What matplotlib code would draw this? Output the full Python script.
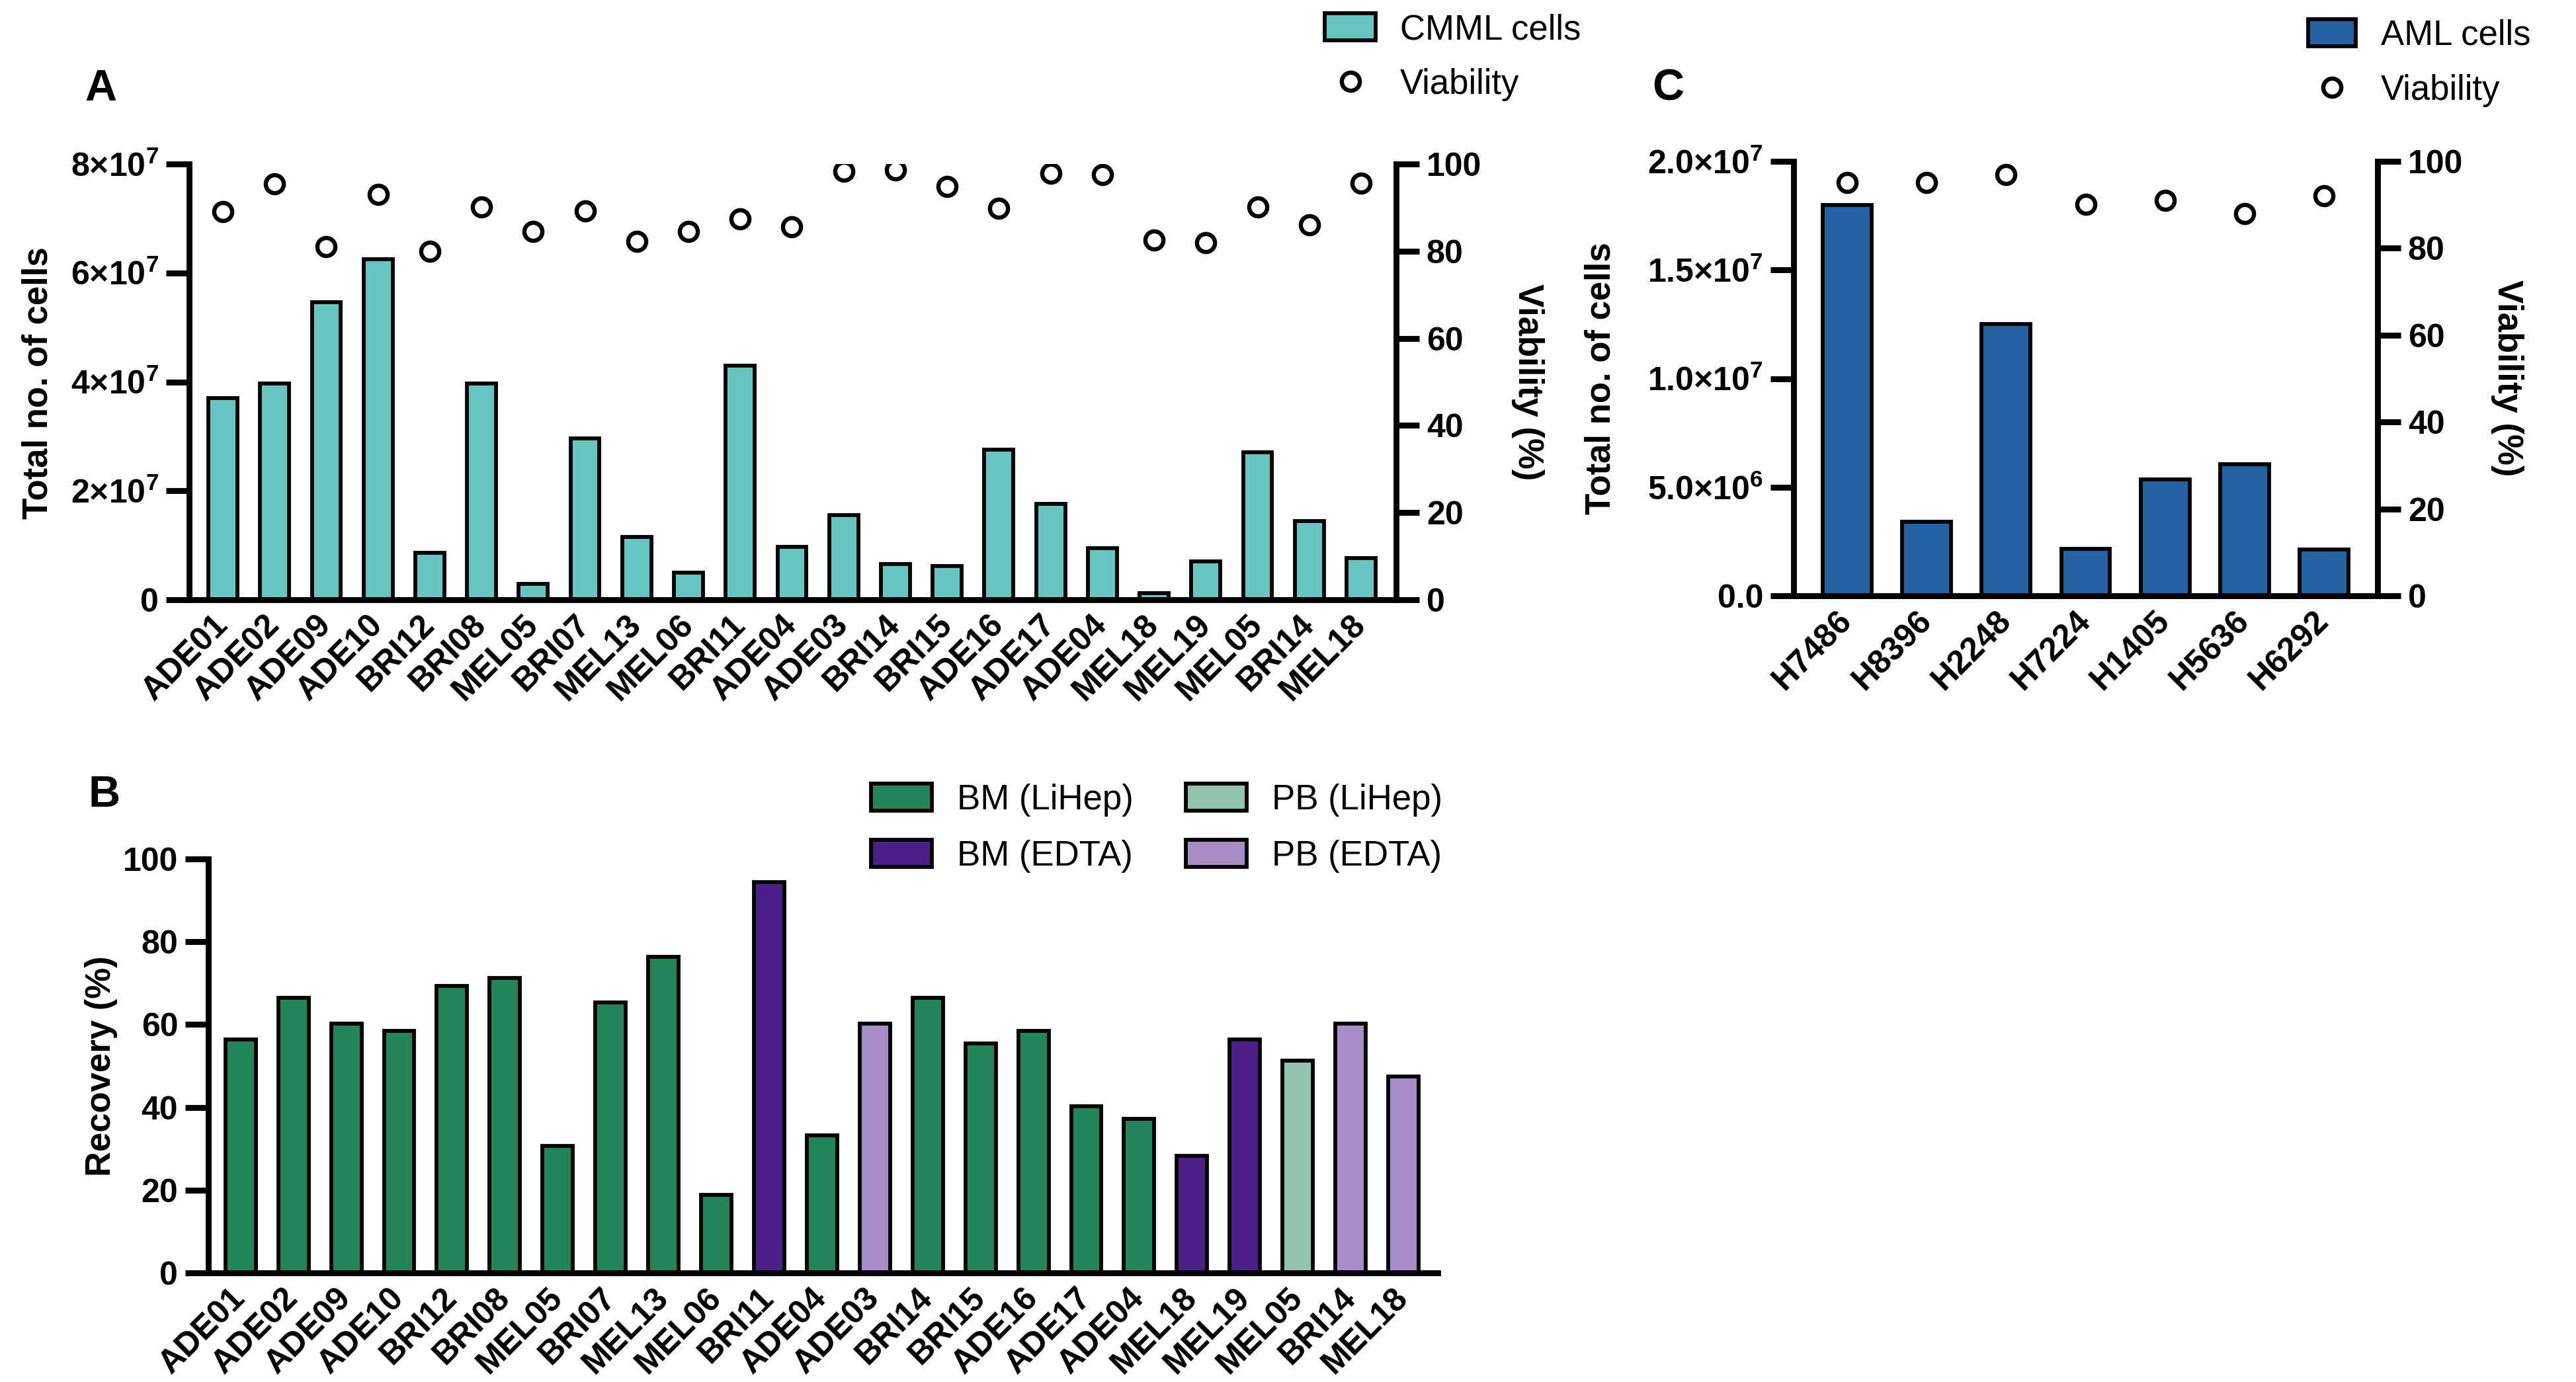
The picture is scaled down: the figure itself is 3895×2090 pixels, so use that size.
import numpy as np
import matplotlib
matplotlib.use("Agg")
import matplotlib.pyplot as plt
from matplotlib import font_manager
from matplotlib.patches import Patch
from matplotlib.lines import Line2D
from matplotlib.font_manager import FontProperties

# ---- data ----
cmml_samples = ["ADE01", "ADE02", "ADE09", "ADE10", "BRI12", "BRI08", "MEL05", "BRI07",
                "MEL13", "MEL06", "BRI11", "ADE04", "ADE03", "BRI14", "BRI15", "ADE16",
                "ADE17", "ADE04", "MEL18", "MEL19", "MEL05", "BRI14", "MEL18"]
cmml_cells = [3.70e7, 3.97e7, 5.46e7, 6.25e7, 0.86e7, 3.97e7, 0.29e7, 2.96e7,
              1.15e7, 0.50e7, 4.30e7, 0.97e7, 1.55e7, 0.65e7, 0.62e7, 2.76e7,
              1.76e7, 0.95e7, 0.12e7, 0.70e7, 2.71e7, 1.44e7, 0.76e7]
cmml_viability = [89.0, 95.4, 81.0, 93.0, 79.9, 90.1, 84.5, 89.3, 82.2, 84.5, 87.4, 85.6,
                  98.4, 98.6, 94.9, 89.9, 97.9, 97.5, 82.6, 81.9, 90.1, 86.0, 95.6]

aml_samples = ["H7486", "H8396", "H2248", "H7224", "H1405", "H5636", "H6292"]
aml_cells = [18.0e6, 3.4e6, 12.5e6, 2.15e6, 5.35e6, 6.05e6, 2.12e6]
aml_viability = [95.2, 95.2, 97.0, 90.1, 91.0, 88.0, 92.1]

recovery = [56.4, 66.4, 60.3, 58.4, 69.4, 71.3, 30.6, 65.4, 76.3, 18.9, 94.4, 33.3,
            60.3, 66.4, 55.4, 58.4, 40.3, 37.3, 28.3, 56.4, 51.3, 60.3, 47.4]
recovery_group = ["BM (LiHep)"] * 10 + ["BM (EDTA)", "BM (LiHep)", "PB (EDTA)",
                  "BM (LiHep)", "BM (LiHep)", "BM (LiHep)", "BM (LiHep)", "BM (LiHep)",
                  "BM (EDTA)", "BM (EDTA)", "PB (LiHep)", "PB (EDTA)", "PB (EDTA)"]
group_order = ["BM (LiHep)", "BM (EDTA)", "PB (LiHep)", "PB (EDTA)"]

cmml_ticks = [0, 2e7, 4e7, 6e7, 8e7]
cmml_ticklabels = ["0", r"$2{\times}10^{7}$", r"$4{\times}10^{7}$",
                   r"$6{\times}10^{7}$", r"$8{\times}10^{7}$"]
aml_ticks = [0, 5e6, 1e7, 1.5e7, 2e7]
aml_ticklabels = ["0.0", r"$5.0{\times}10^{6}$", r"$1.0{\times}10^{7}$",
                  r"$1.5{\times}10^{7}$", r"$2.0{\times}10^{7}$"]
pct_ticks = [0, 20, 40, 60, 80, 100]

# ---- style ----
TEAL = "#66c7c2"
BLUE = "#2361a0"
group_colors = {"BM (LiHep)": "#23865b", "BM (EDTA)": "#4c1e88",
                "PB (LiHep)": "#93c3af", "PB (EDTA)": "#a68dc6"}

names = {f.name for f in font_manager.fontManager.ttflist}
SANS = "Liberation Sans" if "Liberation Sans" in names else "DejaVu Sans"

plt.rcParams["mathtext.fontset"] = "custom"
for k in ("rm", "it", "bf", "sf"):
    plt.rcParams["mathtext." + k] = SANS + ":bold"

W, H, DPI = 3895, 2090, 200
SPINE = 3.2
EDGE = 2.1
fig = plt.figure(figsize=(W / DPI, H / DPI), dpi=DPI)


def px_axes(left, top, right, bottom):
    return fig.add_axes([left / W, 1 - bottom / H, (right - left) / W, (bottom - top) / H])


def fx(px):
    return px / W


def fy(py):
    return 1 - py / H


def style_y(ax, ticks, labels, side="left"):
    ax.set_yticks(ticks, labels)
    ax.tick_params(axis="y", direction="out", length=12.5, width=SPINE, pad=4, labelsize=18)
    for t in ax.get_yticklabels():
        t.set_fontfamily(SANS)
        t.set_fontweight("bold")
    for s in ax.spines.values():
        s.set_linewidth(SPINE)
    ax.spines["top"].set_visible(False)
    if side == "left":
        ax.spines["right"].set_visible(False)
    else:
        ax.spines["left"].set_visible(False)
        ax.spines["bottom"].set_visible(False)


def style_x(ax, labels):
    x = np.arange(len(labels))
    ax.set_xticks(x, labels, rotation=45, ha="right", va="center", rotation_mode="anchor")
    ax.tick_params(axis="x", length=0, pad=11)
    for t in ax.get_xticklabels():
        t.set_fontfamily(SANS)
        t.set_fontweight("bold")
        t.set_fontsize(18)


bold_label = dict(fontsize=19, fontweight="bold", family=SANS, ha="center", va="center")
letter_kw = dict(fontsize=24, fontweight="bold", family=SANS, va="baseline", ha="left")
legend_font = FontProperties(family=SANS, size=19)
marker_kw = dict(marker="o", ls="none", mfc="none", mec="black", ms=9.8, mew=2.3)

# ---- panel A ----
axA = px_axes(286, 248, 2111, 907)
xa = np.arange(len(cmml_samples))
axA.bar(xa, cmml_cells, width=0.56, color=TEAL, edgecolor="black", linewidth=EDGE, zorder=2)
axA.set_xlim(-0.652, len(xa) - 1 + 0.678)
axA.set_ylim(0, 8e7)
style_y(axA, cmml_ticks, cmml_ticklabels)
style_x(axA, cmml_samples)
axA2 = axA.twinx()
axA2.plot(xa, cmml_viability, **marker_kw, zorder=3)
axA2.set_ylim(0, 100)
style_y(axA2, pct_ticks, [str(v) for v in pct_ticks], side="right")
fig.text(fx(57), fy(579), "Total no. of cells", rotation=90, **bold_label)
fig.text(fx(2310), fy(578), "Viability (%)", rotation=270, **bold_label)
fig.text(fx(128), fy(152), "A", **letter_kw)
fig.legend(handles=[Patch(facecolor=TEAL, edgecolor="black", linewidth=EDGE, label="CMML cells"),
                    Line2D([], [], **marker_kw, label="Viability")],
           loc="upper left", bbox_to_anchor=(fx(2003), fy(20)), frameon=False,
           borderpad=0, borderaxespad=0, prop=legend_font, handlelength=1.46,
           handleheight=0.83, handletextpad=0.7, labelspacing=0.63)

# ---- panel C ----
axC = px_axes(2712, 244, 3595, 901)
xc = np.arange(len(aml_samples))
axC.bar(xc, aml_cells, width=0.615, color=BLUE, edgecolor="black", linewidth=EDGE, zorder=2)
axC.set_xlim(-0.674, len(xc) - 1 + 0.674)
axC.set_ylim(0, 2e7)
style_y(axC, aml_ticks, aml_ticklabels)
style_x(axC, aml_samples)
axC2 = axC.twinx()
axC2.plot(xc, aml_viability, **marker_kw, zorder=3)
axC2.set_ylim(0, 100)
style_y(axC2, pct_ticks, [str(v) for v in pct_ticks], side="right")
fig.text(fx(2420), fy(572), "Total no. of cells", rotation=90, **bold_label)
fig.text(fx(3791), fy(572), "Viability (%)", rotation=270, **bold_label)
fig.text(fx(2498), fy(151), "C", **letter_kw)
fig.legend(handles=[Patch(facecolor=BLUE, edgecolor="black", linewidth=EDGE, label="AML cells"),
                    Line2D([], [], **marker_kw, label="Viability")],
           loc="upper left", bbox_to_anchor=(fx(3490), fy(29)), frameon=False,
           borderpad=0, borderaxespad=0, prop=legend_font, handlelength=1.36,
           handleheight=0.8, handletextpad=0.72, labelspacing=0.63)

# ---- panel B ----
axB = px_axes(315, 1299, 2174, 1925)
xb = np.arange(len(cmml_samples))
axB.bar(xb, recovery, width=0.575, color=[group_colors[g] for g in recovery_group],
        edgecolor="black", linewidth=EDGE, zorder=2)
axB.set_xlim(-0.61, len(xb) - 1 + 0.65)
axB.set_ylim(0, 100)
style_y(axB, pct_ticks, [str(v) for v in pct_ticks])
style_x(axB, cmml_samples)
fig.text(fx(153), fy(1612), "Recovery (%)", rotation=90, **bold_label)
fig.text(fx(133), fy(1220), "B", **letter_kw)
fig.legend(handles=[Patch(facecolor=group_colors[g], edgecolor="black", linewidth=EDGE, label=g)
                    for g in group_order],
           ncol=2, loc="upper left", bbox_to_anchor=(fx(1317), fy(1185)), frameon=False,
           borderpad=0, borderaxespad=0, prop=legend_font, handlelength=1.74,
           handleheight=0.8, handletextpad=0.72, labelspacing=0.66, columnspacing=1.5)

fig.savefig("out.png", dpi=DPI)
